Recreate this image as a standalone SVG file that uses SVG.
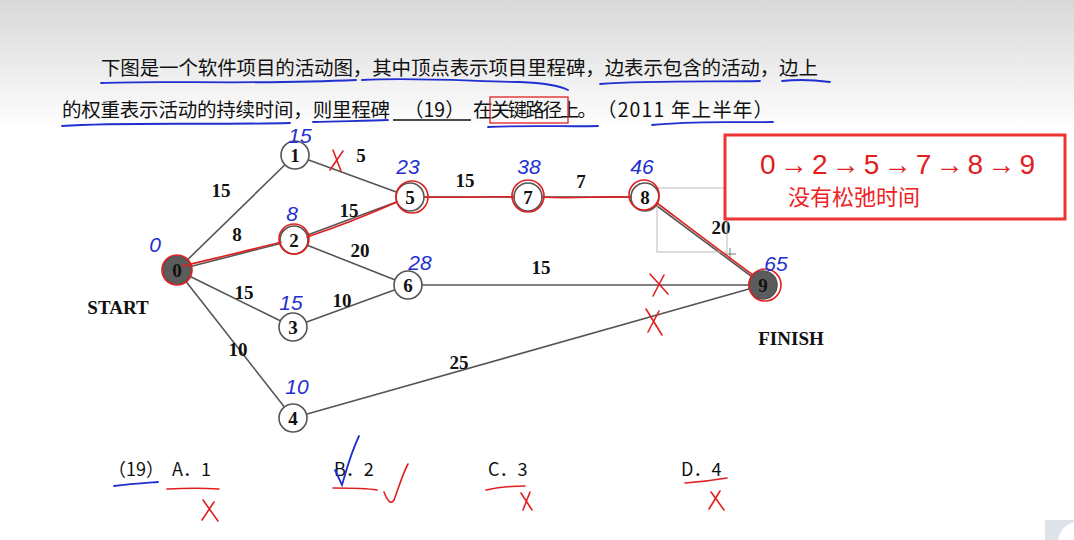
<svg xmlns="http://www.w3.org/2000/svg" width="1074" height="540" viewBox="0 0 1074 540">
<defs>
<linearGradient id="bg" x1="0" y1="0" x2="0" y2="1">
<stop offset="0" stop-color="#d8d8d8"/>
<stop offset="1" stop-color="#ffffff"/>
</linearGradient>
<style>
.cn{font-family:"Noto Sans CJK SC","Noto Sans",sans-serif;font-size:19.5px;fill:#111}
.edge{stroke:#555;stroke-width:1.6;fill:none}
.node circle{fill:#fff;stroke:#555;stroke-width:1.6}
.node.dark circle{fill:#5c5c5c}
.nl{font-family:"Liberation Serif",serif;font-weight:bold;font-size:19px;fill:#111;text-anchor:middle}
.el{font-family:"Liberation Serif",serif;font-weight:bold;font-size:19px;fill:#111;text-anchor:middle}
.blue{stroke:#1f2fd0;stroke-width:1.8;fill:none;stroke-linecap:round}
.hb{font-family:"Liberation Sans",sans-serif;font-style:italic;font-size:21px;fill:#1f2fd0;text-anchor:middle}
.red{stroke:#e02020;stroke-width:1.6;fill:none;stroke-linecap:round}
.opt{font-family:"Noto Sans CJK SC","Noto Sans",sans-serif;font-size:18px;fill:#111}
</style>
</defs>
<rect x="0" y="0" width="1074" height="540" fill="#fff"/>
<rect x="0" y="0" width="1074" height="130" fill="url(#bg)"/>

<!-- question text -->
<g id="question">
<text class="cn" x="101" y="75" textLength="717" lengthAdjust="spacing">下图是一个软件项目的活动图，其中顶点表示项目里程碑，边表示包含的活动，边上</text>
<text class="cn" x="62" y="117" textLength="328" lengthAdjust="spacing">的权重表示活动的持续时间，则里程碑</text>
<line x1="393" y1="120" x2="471" y2="120" stroke="#111" stroke-width="1.5"/>
<text class="cn" x="404" y="117">（19）</text>
<text class="cn" x="473" y="117" textLength="124" lengthAdjust="spacing">在关键路径上。</text>
<text class="cn" x="597" y="117" textLength="176" lengthAdjust="spacing">（2011 年上半年）</text>
<rect x="490" y="97" width="78" height="26" fill="none" stroke="#e02020" stroke-width="1.3"/>
</g>

<!-- blue underlines of the question -->
<g id="underlines">
<path class="blue" d="M101,83 C160,80 250,85 356,80"/>
<path class="blue" d="M362,80 C420,77 480,82 520,82 C545,83 560,86 568,90"/>
<path class="blue" d="M600,84 C650,80 720,82 760,81"/>
<path class="blue" d="M782,81 C800,79 815,80 830,82"/>
<path class="blue" d="M62,126 C120,122 200,125 290,123"/>
<path class="blue" d="M313,122 C340,121 365,121 388,120"/>
<path class="blue" d="M488,127 C530,125 570,127 598,126"/>
<path class="blue" d="M652,125 C700,120 740,123 773,122"/>
</g>

<!-- connectors -->
<g id="connectors">
<line class="edge" x1="177" y1="270" x2="295" y2="155"/>
<line class="edge" x1="177" y1="270" x2="294" y2="240"/>
<line class="edge" x1="177" y1="270" x2="293" y2="327"/>
<line class="edge" x1="177" y1="270" x2="293" y2="418"/>
<line class="edge" x1="295" y1="155" x2="410" y2="197"/>
<line class="edge" x1="294" y1="240" x2="410" y2="197"/>
<line class="edge" x1="294" y1="240" x2="408" y2="285"/>
<line class="edge" x1="293" y1="327" x2="408" y2="285"/>
<line class="edge" x1="293" y1="418" x2="763" y2="285"/>
<line class="edge" x1="410" y1="197" x2="528" y2="197"/>
<line class="edge" x1="408" y1="285" x2="763" y2="285"/>
<line class="edge" x1="528" y1="197" x2="645" y2="197"/>
<line class="edge" x1="645" y1="197" x2="763" y2="285"/>
<text class="el" x="221" y="197">15</text>
<text class="el" x="361" y="162">5</text>
<text class="el" x="237" y="241">8</text>
<text class="el" x="349" y="217">15</text>
<text class="el" x="360" y="257">20</text>
<text class="el" x="244" y="299">15</text>
<text class="el" x="342" y="307">10</text>
<text class="el" x="238" y="356">10</text>
<text class="el" x="459" y="369">25</text>
<text class="el" x="465" y="187">15</text>
<text class="el" x="581" y="188">7</text>
<text class="el" x="721" y="234">20</text>
<text class="el" x="541" y="274">15</text>
</g>

<!-- selection artifact near node 8 -->
<g id="artifact">
<rect x="657" y="188" width="70" height="64" fill="none" stroke="#bbb" stroke-width="1"/>
<path d="M730,248 v12 M724,254 h12" stroke="#777" stroke-width="1" fill="none"/>
</g>

<!-- nodes -->
<g id="n0" class="node dark"><circle cx="177" cy="270" r="14"/><text class="nl" x="177" y="277">0</text></g>
<g id="n1" class="node"><circle cx="295" cy="155" r="14"/><text class="nl" x="295" y="162">1</text></g>
<g id="n2" class="node"><circle cx="294" cy="240" r="14"/><text class="nl" x="294" y="247">2</text></g>
<g id="n3" class="node"><circle cx="293" cy="327" r="14"/><text class="nl" x="293" y="334">3</text></g>
<g id="n4" class="node"><circle cx="293" cy="418" r="14"/><text class="nl" x="293" y="425">4</text></g>
<g id="n5" class="node"><circle cx="410" cy="197" r="14"/><text class="nl" x="410" y="204">5</text></g>
<g id="n6" class="node"><circle cx="408" cy="285" r="14"/><text class="nl" x="408" y="292">6</text></g>
<g id="n7" class="node"><circle cx="528" cy="197" r="14"/><text class="nl" x="528" y="204">7</text></g>
<g id="n8" class="node"><circle cx="645" cy="197" r="14"/><text class="nl" x="645" y="204">8</text></g>
<g id="n9" class="node dark"><circle cx="763" cy="285" r="14"/><text class="nl" x="763" y="292">9</text></g>
<g id="labels">
<text class="el" x="118" y="314" font-size="20">START</text>
<text class="el" x="791" y="345" font-size="20">FINISH</text>
</g>

<!-- red critical path annotation -->
<g id="critical">
<path class="red" d="M183,266 C220,257 255,249 281,242 M307,237 C340,226 370,214 397,202 M425,197 C460,198 490,196 514,197 M543,197 C570,199 600,196 631,197 M657,203 C690,228 720,251 753,275"/>
<circle class="red" cx="177" cy="270" r="15"/>
<circle class="red" cx="294" cy="239" r="15"/>
<circle class="red" cx="412" cy="197" r="16"/>
<circle class="red" cx="528" cy="196" r="16"/>
<circle class="red" cx="644" cy="195" r="15"/>
<circle class="red" cx="765" cy="285" r="16"/>
</g>

<!-- red crosses -->
<g id="crosses">
<path class="red" d="M333,150 L341,171 M343,151 L330,170"/>
<path class="red" d="M650,274 L668,294 M664,275 L653,296"/>
<path class="red" d="M646,309 L662,335 M659,311 L648,332"/>
<path class="red" d="M203,500 L218,521 M214,502 L202,520"/>
<path class="red" d="M521,493 L532,510 M530,492 L523,510"/>
<path class="red" d="M711,492 L724,510 M720,491 L709,509"/>
</g>

<!-- blue handwritten values -->
<g id="values">
<text class="hb" x="155" y="252" font-size="28">0</text>
<text class="hb" x="300" y="143" font-size="19">15</text>
<text class="hb" x="292" y="221">8</text>
<text class="hb" x="408" y="174">23</text>
<text class="hb" x="420" y="270">28</text>
<text class="hb" x="291" y="310">15</text>
<text class="hb" x="297" y="394">10</text>
<text class="hb" x="529" y="174">38</text>
<text class="hb" x="642" y="174">46</text>
<text class="hb" x="776" y="271">65</text>
</g>

<!-- red note box -->
<g id="note">
<rect x="725" y="135" width="340" height="84" fill="#fff" stroke="#ee3333" stroke-width="3"/>
<text x="760" y="174" font-family="Liberation Sans, sans-serif" font-size="28" fill="#e02020" textLength="275" lengthAdjust="spacing">0→2→5→7→8→9</text>
<text x="788" y="205" font-family="Noto Sans CJK SC, sans-serif" font-size="22" fill="#ee2222">没有松弛时间</text>
</g>

<!-- options -->
<g id="options">
<text class="opt" x="108" y="476">（19）</text>
<text class="opt" x="172" y="476">A．1</text>
<text class="opt" x="334" y="476">B．2</text>
<text class="opt" x="488" y="476">C．3</text>
<text class="opt" x="681" y="476">D．4</text>
<path class="blue" d="M114,486 C130,484 145,483 158,482"/>
<path class="red" d="M167,489 C185,488 205,488 219,489"/>
<path class="red" d="M333,488 C345,488 365,488 377,490"/>
<path class="red" d="M384,492 C389,505 392,503 394,500 C398,490 402,475 408,464"/>
<path class="red" d="M486,490 C500,487 515,486 525,486"/>
<path class="red" d="M685,483 C700,482 715,480 727,478"/>
<path class="blue" d="M335,470 L342,485 C345,475 350,455 359,436"/>
</g>

<rect x="1045" y="520" width="29" height="20" fill="#dde3e8"/>
<path d="M1058,540 C1060,530 1066,524 1074,522 L1074,540 Z" fill="#fff"/>
</svg>
